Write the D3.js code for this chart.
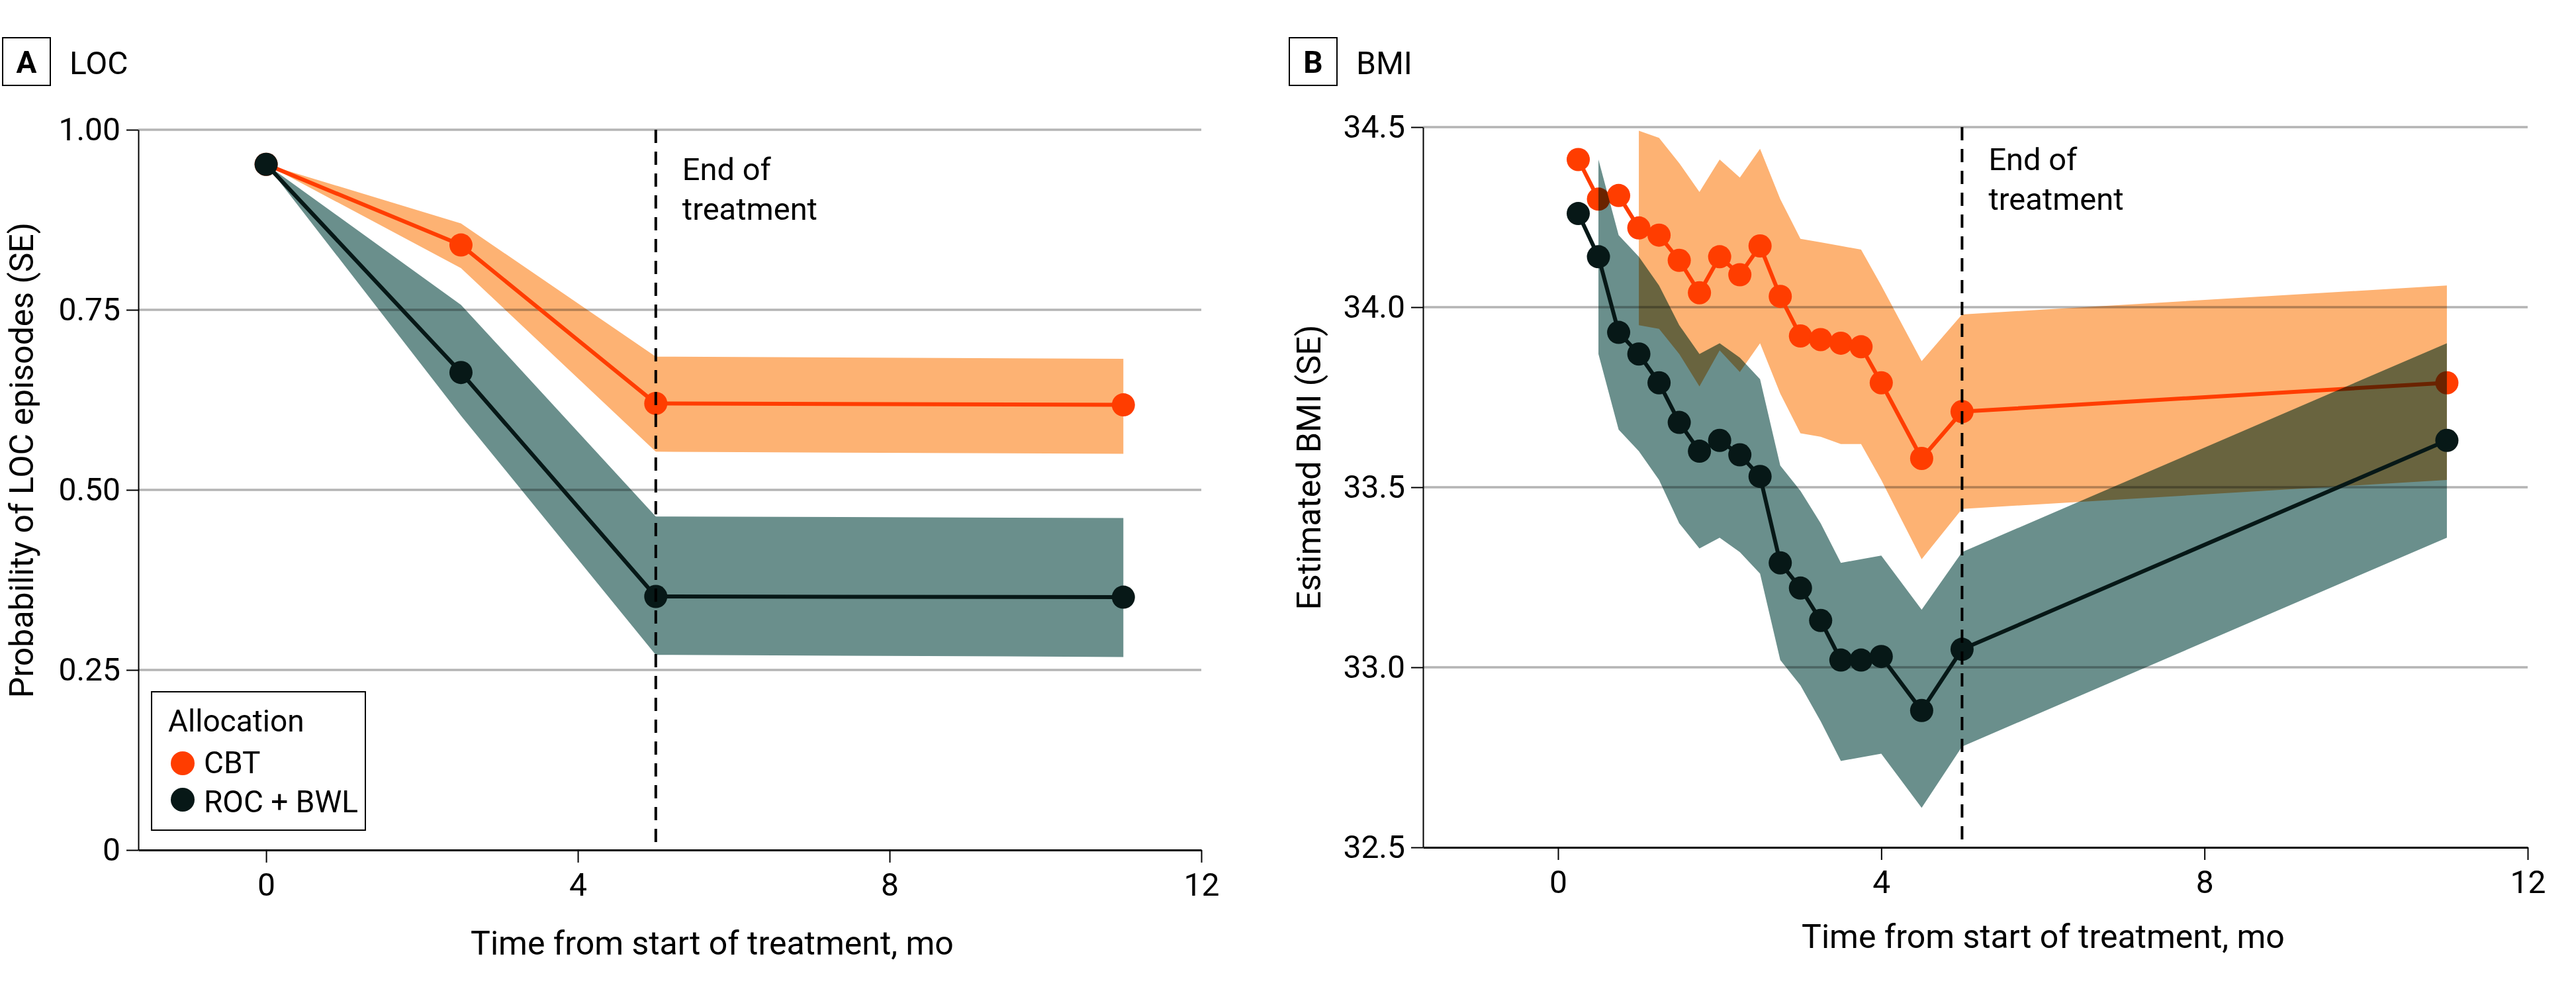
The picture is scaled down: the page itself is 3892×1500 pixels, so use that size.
<!DOCTYPE html>
<html>
<head>
<meta charset="utf-8">
<script src="https://cdn.jsdelivr.net/npm/d3@7"></script>
<style>
    body { margin: 0; background: #fff; }
    svg text { font-family: Roboto, "Open Sans", sans-serif; fill: #000; }
</style>
</head>
<body>
<svg id="chart" width="3892" height="1500"></svg>
<script>

// Panel A - probability of LOC episodes
const locMonths   = [0, 2.5, 5, 11];
const locCbt      = [0.952, 0.840, 0.620, 0.618];
const locCbtUpper = [0.952, 0.870, 0.685, 0.682];
const locCbtLower = [0.952, 0.808, 0.553, 0.550];
const locRoc      = [0.952, 0.663, 0.352, 0.351];
const locRocUpper = [0.952, 0.757, 0.463, 0.461];
const locRocLower = [0.952, 0.603, 0.271, 0.268];
const locYTicks   = [0, 0.25, 0.5, 0.75, 1];
const locYLabels  = ['0', '0.25', '0.50', '0.75', '1.00'];

// Panel B - estimated BMI
const bmiMonths   = [0.25, 0.5, 0.75, 1, 1.25, 1.5, 1.75, 2, 2.25, 2.5, 2.75, 3, 3.25, 3.5, 3.75, 4, 4.5, 5, 11];
const bmiCbt      = [34.41, 34.30, 34.31, 34.22, 34.20, 34.13, 34.04, 34.14, 34.09, 34.17, 34.03, 33.92, 33.91, 33.90, 33.89, 33.79, 33.58, 33.71, 33.79];
const bmiCbtUpper = [null, null, null, 34.49, 34.47, 34.40, 34.32, 34.41, 34.36, 34.44, 34.30, 34.19, 34.18, 34.17, 34.16, 34.06, 33.85, 33.98, 34.06];
const bmiCbtLower = [null, null, null, 33.95, 33.94, 33.87, 33.78, 33.88, 33.82, 33.90, 33.76, 33.65, 33.64, 33.62, 33.62, 33.52, 33.30, 33.44, 33.52];
const bmiRoc      = [34.26, 34.14, 33.93, 33.87, 33.79, 33.68, 33.60, 33.63, 33.59, 33.53, 33.29, 33.22, 33.13, 33.02, 33.02, 33.03, 32.88, 33.05, 33.63];
const bmiRocUpper = [null, 34.41, 34.20, 34.14, 34.06, 33.95, 33.87, 33.90, 33.86, 33.80, 33.56, 33.49, 33.40, 33.29, 33.30, 33.31, 33.16, 33.32, 33.90];
const bmiRocLower = [null, 33.87, 33.66, 33.60, 33.52, 33.40, 33.33, 33.36, 33.32, 33.26, 33.02, 32.95, 32.85, 32.74, 32.75, 32.76, 32.61, 32.78, 33.36];
const bmiYTicks   = [32.5, 33, 33.5, 34, 34.5];
const bmiYLabels  = ['32.5', '33.0', '33.5', '34.0', '34.5'];

const xTicks = [0, 4, 8, 12];
const endOfTreatment = 5;
const groups = ['CBT', 'ROC + BWL'];

const cbtColor = '#ff3d00';
const cbtBand = '#fdb273';
const rocColor = '#071817';
const rocBand = '#6a8f8c';

const svg = d3.select('#chart');

svg.append('rect')
    .attr('width', 3892)
    .attr('height', 1500)
    .style('fill', '#fff');

function drawSeries(g, x, y, months, mid, hi, lo, color, band) {
    const rows = months.map((m, i) => ({m: m, v: mid[i], hi: hi[i], lo: lo[i]}));

    const area = d3.area()
        .defined(d => d.hi != null)
        .x(d => x(d.m))
        .y0(d => y(d.lo))
        .y1(d => y(d.hi));

    g.append('path')
        .datum(rows)
        .attr('d', area)
        .style('fill', band)
        .style('mix-blend-mode', 'multiply');

    const line = d3.line()
        .x(d => x(d.m))
        .y(d => y(d.v));

    g.append('path')
        .datum(rows)
        .attr('d', line)
        .style('fill', 'none')
        .style('stroke', color)
        .style('stroke-width', 6)
        .style('stroke-linejoin', 'round');

    g.selectAll(null)
        .data(rows)
        .join('circle')
            .attr('cx', d => x(d.m))
            .attr('cy', d => y(d.v))
            .attr('r', 17.5)
            .style('fill', color);
}

function drawPanel(cfg) {
    const x = d3.scaleLinear().domain([cfg.xMin, 12]).range([cfg.left, cfg.right]);
    const y = d3.scaleLinear().domain(cfg.yDomain).range([cfg.bottom, cfg.top]);

    const g = svg.append('g');

    // Gridlines
    g.selectAll('.grid')
        .data(cfg.yTicks.slice(1))
        .join('line')
            .attr('x1', cfg.left)
            .attr('x2', x(12))
            .attr('y1', d => y(d))
            .attr('y2', d => y(d))
            .style('stroke', '#b4b4b4')
            .style('stroke-width', 3.5);

    drawSeries(g, x, y, cfg.months, cfg.cbt, cfg.cbtHi, cfg.cbtLo, cbtColor, cbtBand);
    drawSeries(g, x, y, cfg.months, cfg.roc, cfg.rocHi, cfg.rocLo, rocColor, rocBand);

    // Y axis
    const yAxis = g.append('g')
        .attr('transform', `translate(${cfg.left},0)`)
        .call(d3.axisLeft(y)
            .tickValues(cfg.yTicks)
            .tickFormat((d, i) => cfg.yLabels[i])
            .tickSize(18)
            .tickSizeOuter(0)
            .tickPadding(9));
    yAxis.select('.domain').style('stroke', '#000').style('stroke-width', 2);
    yAxis.selectAll('.tick line').style('stroke', '#000').style('stroke-width', 2);
    yAxis.selectAll('.tick text')
        .style('font-size', '48px')
        .style('font-family', 'Roboto, sans-serif');

    // X axis
    const xAxis = g.append('g')
        .attr('transform', `translate(0,${cfg.bottom})`)
        .call(d3.axisBottom(x)
            .tickValues(xTicks)
            .tickSize(19)
            .tickSizeOuter(0)
            .tickPadding(16));
    xAxis.select('.domain').style('stroke', '#000').style('stroke-width', 3);
    xAxis.selectAll('.tick line').style('stroke', '#000').style('stroke-width', 2);
    xAxis.selectAll('.tick text')
        .style('font-size', '48px')
        .style('font-family', 'Roboto, sans-serif');

    // End of treatment marker
    g.append('line')
        .attr('x1', x(endOfTreatment))
        .attr('x2', x(endOfTreatment))
        .attr('y1', cfg.top)
        .attr('y2', cfg.bottom)
        .style('stroke', '#000')
        .style('stroke-width', 4)
        .style('stroke-dasharray', '20 13');

    g.append('text')
        .attr('x', x(endOfTreatment) + 40)
        .attr('y', cfg.noteY)
        .style('font-size', '47px')
        .text('End of');
    g.append('text')
        .attr('x', x(endOfTreatment) + 40)
        .attr('y', cfg.noteY + 60)
        .style('font-size', '47px')
        .text('treatment');

    // Axis titles
    g.append('text')
        .attr('x', cfg.xTitleX)
        .attr('y', cfg.xTitleY)
        .style('font-size', '50px')
        .style('text-anchor', 'middle')
        .text('Time from start of treatment, mo');

    g.append('text')
        .attr('transform', `translate(${cfg.yTitleX},${cfg.yTitleY}) rotate(-90)`)
        .style('font-size', '50px')
        .style('text-anchor', 'middle')
        .text(cfg.yTitle);

    // Panel letter and title
    g.append('rect')
        .attr('x', cfg.boxX)
        .attr('y', 57)
        .attr('width', 72)
        .attr('height', 72)
        .style('fill', 'none')
        .style('stroke', '#000')
        .style('stroke-width', 2);
    g.append('text')
        .attr('x', cfg.boxX + 36)
        .attr('y', 110)
        .style('font-size', '46px')
        .style('font-weight', 'bold')
        .style('text-anchor', 'middle')
        .text(cfg.letter);
    g.append('text')
        .attr('x', cfg.boxX + 101)
        .attr('y', 112)
        .style('font-size', '48px')
        .text(cfg.title);
}

drawPanel({
    letter: 'A', title: 'LOC', boxX: 4,
    left: 209, right: 1815, top: 196, bottom: 1284, xMin: -1.64,
    yDomain: [0, 1], yTicks: locYTicks, yLabels: locYLabels,
    months: locMonths,
    cbt: locCbt, cbtHi: locCbtUpper, cbtLo: locCbtLower,
    roc: locRoc, rocHi: locRocUpper, rocLo: locRocLower,
    noteY: 272,
    xTitleX: 1076, xTitleY: 1442,
    yTitle: 'Probability of LOC episodes (SE)', yTitleX: 50, yTitleY: 695
});

drawPanel({
    letter: 'B', title: 'BMI', boxX: 1948,
    left: 2150, right: 3819, top: 192, bottom: 1280, xMin: -1.671,
    yDomain: [32.5, 34.5], yTicks: bmiYTicks, yLabels: bmiYLabels,
    months: bmiMonths,
    cbt: bmiCbt, cbtHi: bmiCbtUpper, cbtLo: bmiCbtLower,
    roc: bmiRoc, rocHi: bmiRocUpper, rocLo: bmiRocLower,
    noteY: 257,
    xTitleX: 3087, xTitleY: 1432,
    yTitle: 'Estimated BMI (SE)', yTitleX: 1995, yTitleY: 706
});

// Legend
const legend = svg.append('g');

legend.append('rect')
    .attr('x', 229)
    .attr('y', 1045)
    .attr('width', 323)
    .attr('height', 209)
    .style('fill', '#fff')
    .style('stroke', '#000')
    .style('stroke-width', 2);

legend.append('text')
    .attr('x', 254)
    .attr('y', 1105)
    .style('font-size', '46px')
    .text('Allocation');

legend.selectAll('.legendDot')
    .data(groups)
    .join('circle')
        .classed('legendDot', true)
        .attr('cx', 276)
        .attr('cy', (d, i) => 1153 + i * 55)
        .attr('r', 18)
        .style('fill', (d, i) => i === 0 ? cbtColor : rocColor);

legend.selectAll('.legendText')
    .data(groups)
    .join('text')
        .classed('legendText', true)
        .attr('x', 308)
        .attr('y', (d, i) => 1168 + i * 59)
        .style('font-size', '46px')
        .text(d => d);

</script>
</body>
</html>
